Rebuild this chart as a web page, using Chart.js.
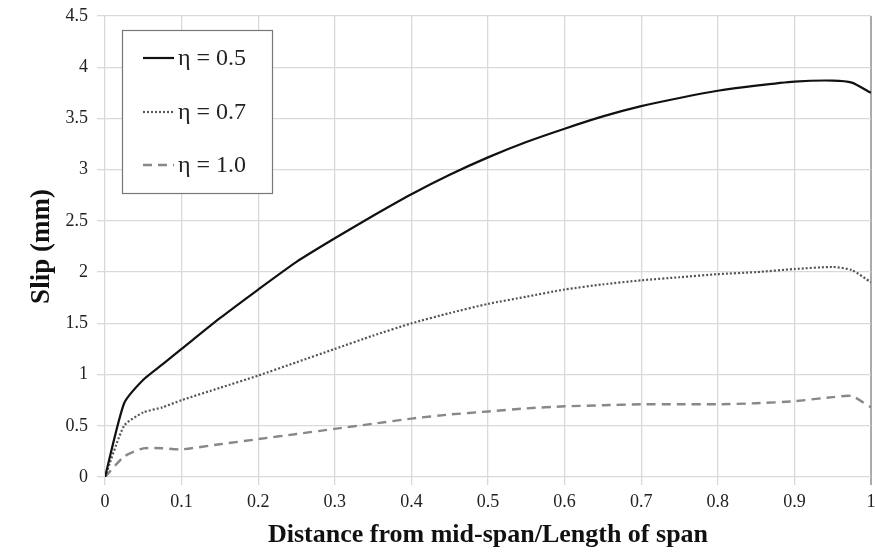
<!DOCTYPE html>
<html><head><meta charset="utf-8">
<script src="https://cdn.jsdelivr.net/npm/chart.js@4"></script>
<style>html,body{margin:0;padding:0;background:#fff}#wrap{width:875px;height:555px}</style>
</head><body><div id="wrap"><canvas id="c" width="875" height="555"></canvas></div>
<script>
const xs = [0,0.025,0.05,0.075,0.1,0.15,0.2,0.25,0.3,0.35,0.4,0.45,0.5,0.55,0.6,0.65,0.7,0.75,0.8,0.85,0.9,0.95,0.975,1.0];
const eta05 = [0,0.72,0.95,1.1,1.25,1.55,1.83,2.1,2.33,2.55,2.76,2.95,3.12,3.27,3.4,3.52,3.62,3.7,3.77,3.82,3.86,3.87,3.85,3.75];
const eta07 = [0,0.5,0.63,0.68,0.75,0.87,0.99,1.12,1.25,1.38,1.5,1.6,1.69,1.76,1.83,1.88,1.92,1.95,1.98,2.0,2.03,2.05,2.02,1.9];
const eta10 = [0,0.2,0.28,0.28,0.27,0.32,0.37,0.42,0.47,0.52,0.57,0.61,0.64,0.67,0.69,0.7,0.71,0.71,0.71,0.72,0.74,0.78,0.79,0.68];
const seriesLabels = ['η = 0.5','η = 0.7','η = 1.0'];
const xTitle = 'Distance from mid-span/Length of span';
const yTitle = 'Slip (mm)';

const pts = arr => xs.map((x,i)=>({x:x,y:arr[i]}));
const styles = [
  {borderColor:'#111', borderWidth:2.2, borderDash:[]},
  {borderColor:'#555', borderWidth:2.2, borderDash:[2,2]},
  {borderColor:'#888', borderWidth:2.4, borderDash:[9,6]}
];
const datasets = [eta05,eta07,eta10].map((arr,i)=>Object.assign({
  label: seriesLabels[i], data: pts(arr), pointRadius:0, tension:0.2, fill:false
}, styles[i]));

const legendBox = {
  id:'legendBox',
  afterDraw(chart){
    const ctx = chart.ctx;
    ctx.save();
    ctx.strokeStyle = '#777'; ctx.lineWidth = 1.2;
    ctx.fillStyle = '#fff';
    ctx.fillRect(122.5,30.5,150,163);
    ctx.strokeRect(122.5,30.5,150,163);
    ctx.font = '24px "Liberation Serif", "Times New Roman", serif';
    ctx.textBaseline = 'middle';
    const ys = [58,112,165];
    chart.data.datasets.forEach((ds,i)=>{
      ctx.beginPath();
      ctx.strokeStyle = ds.borderColor; ctx.lineWidth = ds.borderWidth;
      ctx.setLineDash(ds.borderDash);
      ctx.moveTo(143, ys[i]); ctx.lineTo(174, ys[i]); ctx.stroke();
      ctx.setLineDash([]);
      ctx.fillStyle = '#222';
      ctx.fillText(ds.label, 178, ys[i]+1);
    });
    ctx.restore();
  }
};

new Chart(document.getElementById('c'), {
  type:'line',
  data:{datasets:datasets},
  options:{
    responsive:false, animation:false,
    layout:{padding:{top:4,right:0,left:22,bottom:0}},
    plugins:{legend:{display:false}, tooltip:{enabled:false}},
    scales:{
      x:{type:'linear', min:0, max:1,
        ticks:{stepSize:0.1, color:'#222', padding:6,
          font:{family:'"Liberation Serif", serif', size:18},
          callback:v=>Math.round(v*10)/10},
        grid:{color:c=>c.tick && c.tick.value===1 ? '#aaa' : '#d9d9d9', lineWidth:c=>c.tick && c.tick.value===1 ? 2 : 1.3, tickLength:8},
        border:{display:false},
        title:{display:true, text:xTitle, color:'#111', padding:{top:4},
          font:{family:'"Liberation Serif", serif', size:26, weight:'bold'}},
        afterFit:s=>{s.height=78; s.paddingRight=4;}
      },
      y:{min:0, max:4.5,
        ticks:{stepSize:0.5, color:'#222', padding:9,
          font:{family:'"Liberation Serif", serif', size:18},
          callback:v=>String(Math.round(v*10)/10)},
        grid:{color:'#d9d9d9', lineWidth:1.3, tickLength:8},
        border:{display:false},
        title:{display:true, text:yTitle, color:'#111', padding:{bottom:10},
          font:{family:'"Liberation Serif", serif', size:27, weight:'bold'}},
        afterFit:s=>{s.width=83; s.paddingTop=16;}
      }
    }
  },
  plugins:[legendBox]
});
</script></body></html>
